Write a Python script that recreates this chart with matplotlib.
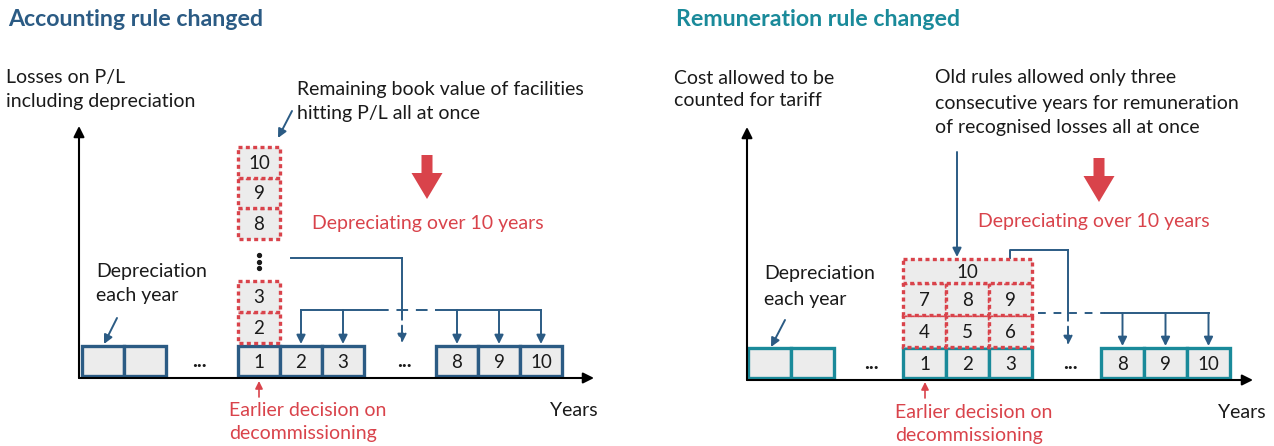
import matplotlib
matplotlib.use("Agg")
import matplotlib.pyplot as plt
from matplotlib.patches import Rectangle, FancyArrow

plt.rcParams['font.family'] = ['Lato', 'DejaVu Sans']

# ---- data -------------------------------------------------------------
titles = ["Accounting rule changed", "Remuneration rule changed"]
y_labels = ["Losses on P/L\nincluding depreciation", "Cost allowed to be\ncounted for tariff"]
notes = ["Remaining book value of facilities\nhitting P/L all at once",
         "Old rules allowed only three\nconsecutive years for remuneration\nof recognised losses all at once"]
red_note = "Depreciating over 10 years"
dep_note = "Depreciation\neach year"
decision_note = "Earlier decision on\ndecommissioning"
x_label = "Years"

before_years = ["", ""]
first_years = ["1", "2", "3"]
last_years = ["8", "9", "10"]
stack_low = ["2", "3"]            # accounting: written off at once (bottom part)
stack_high = ["8", "9", "10"]     # accounting: top part of the stack
grid_rows = [["4", "5", "6"], ["7", "8", "9"], ["10"]]   # remuneration: 3 years

# ---- style ------------------------------------------------------------
NAVY = "#2b5b84"
TEAL = "#1a8a9a"
RED = "#d9434b"
FILL = "#ececec"
INK = "#1a1a1a"
FS = 14
TFS = 16.7

fig = plt.figure(figsize=(12.74, 4.46), dpi=100)
ax = fig.add_axes([0, 0, 1, 1])
ax.set_xlim(0, 1274)
ax.set_ylim(446, 0)
ax.axis("off")


def multiline(x, y, text, step, color=INK):
    for i, line in enumerate(text.split("\n")):
        ax.text(x, y + i * step, line, va="center", ha="left", fontsize=FS, color=color)


def box(x, y, w, h, label, edge, dashed=False):
    ls = (0, (1.2, 1.0)) if dashed else "-"
    ax.add_patch(Rectangle((x, y), w, h, facecolor=FILL, edgecolor=edge, lw=2.4, ls=ls, zorder=3))
    if label:
        ax.text(x + w / 2, y + h / 2 + 1, label, ha="center", va="center", fontsize=FS - 0.5, color=INK, zorder=4)


def arrow(x1, y1, x2, y2, color=NAVY, lw=1.4, ls="-", scale=13):
    ax.annotate("", xy=(x2, y2), xytext=(x1, y1),
                arrowprops=dict(arrowstyle="-|>", color=color, lw=lw, ls=ls,
                                mutation_scale=scale, shrinkA=0, shrinkB=0), zorder=5)


def seg(xs, ys, color=NAVY, lw=1.4, ls="-"):
    ax.plot(xs, ys, color=color, lw=lw, ls=ls, zorder=2)


def fat_arrow(x, y0, y1):
    ax.add_patch(FancyArrow(x, y0, 0, y1 - y0, width=11, head_width=31, head_length=26,
                            length_includes_head=True, color=RED, lw=0, zorder=5))


def axes_frame(x0, y0, ytop, xend):
    arrow(x0, y0, x0, ytop, color="black", lw=1.5, scale=16)
    arrow(x0, y0, xend, y0, color="black", lw=1.5, scale=16)


def year_row(xs, y, w, h, labels, edge):
    for i, lab in enumerate(labels):
        box(xs + i * w, y, w, h, lab, edge)


def ellipsis(x, y):
    ax.text(x, y, "...", ha="center", va="center", fontsize=FS + 1, fontweight="bold", color=INK)


# ---- left panel: accounting -------------------------------------------
ax.text(8, 20, titles[0], fontsize=TFS, fontweight="bold", color=NAVY, va="center")
multiline(6, 78, y_labels[0], 23)
multiline(297, 89, notes[0], 24)
arrow(292, 111, 278, 138)

axes_frame(79, 378, 126, 594)
w, h, base = 42, 30, 346
year_row(82, base, w, h, before_years, NAVY)
year_row(238, base, w, h, first_years, NAVY)
year_row(436, base, w, h, last_years, NAVY)
ellipsis(199, base + h / 2)
ellipsis(404, base + h / 2)

# stack over year 1
for i, lab in enumerate(stack_low):
    box(238, base - 3 - (i + 1) * 31, w, 31, lab, RED, dashed=True)
for i, lab in enumerate(stack_high):
    box(238, 208 - i * 30.5, w, 30.5, lab, RED, dashed=True)
for yd in (255, 261.5, 268):
    ax.plot(259, yd, "o", ms=2.8, color=INK, zorder=4)

fat_arrow(427, 155, 199)
ax.text(312, 224, red_note, fontsize=FS, color=RED, va="center")

# spread-over connectors
seg([291, 402], [258, 258])
seg([402, 402], [258, 312])
arrow(402, 312, 402, 343, ls=(0, (4, 3)))
seg([301, 377], [310, 310])
seg([377, 436], [310, 310], ls=(0, (6, 4)))
seg([436, 541], [310, 310])
for i in range(2):
    arrow(238 + (i + 1.5) * w, 310, 238 + (i + 1.5) * w, 344)
for i in range(3):
    arrow(436 + (i + 0.5) * w, 310, 436 + (i + 0.5) * w, 344)

multiline(96, 271, dep_note, 25)
arrow(117, 318, 104, 344)
arrow(259, 397, 259, 381, color=RED, lw=1.2, scale=11)
multiline(229, 410, decision_note, 24, color=RED)
ax.text(550, 410, x_label, fontsize=FS, color=INK, va="center")

# ---- right panel: remuneration ----------------------------------------
ax.text(676, 20, titles[1], fontsize=TFS, fontweight="bold", color=TEAL, va="center")
multiline(674, 78, y_labels[1], 23)
multiline(935, 78, notes[1], 25)

axes_frame(747, 380, 127, 1253)
w, h, base = 43, 30, 348
year_row(748, base, w, h, before_years, TEAL)
year_row(903, base, w, h, first_years, TEAL)
year_row(1101, base, w, h, last_years, TEAL)
ellipsis(871, base + h / 2)
ellipsis(1070, base + h / 2)

# three-year grid over years 1-3
row_h = [32, 32, 24]
top = base - 1
for row, rh in zip(grid_rows, row_h):
    top -= rh
    cw = 3 * w / len(row)
    for j, lab in enumerate(row):
        box(903 + j * cw, top, cw, rh, lab, RED, dashed=True)

arrow(957, 152, 957, 257)
fat_arrow(1099, 158, 202)
ax.text(978, 222, red_note, fontsize=FS, color=RED, va="center")

seg([1010, 1010, 1068], [258, 250, 250])
seg([1068, 1068], [250, 313])
arrow(1068, 313, 1068, 345, ls=(0, (4, 3)))
seg([1038, 1105], [313, 313], ls=(0, (4, 4)))
seg([1105, 1209], [313, 313])
for i in range(3):
    arrow(1101 + (i + 0.5) * w, 313, 1101 + (i + 0.5) * w, 346)

multiline(764, 274, dep_note, 25)
arrow(785, 320, 771, 347)
arrow(925, 398, 925, 382, color=RED, lw=1.2, scale=11)
multiline(895, 412, decision_note, 24, color=RED)
ax.text(1218, 413, x_label, fontsize=FS, color=INK, va="center")

fig.savefig("out.png", dpi=100)
